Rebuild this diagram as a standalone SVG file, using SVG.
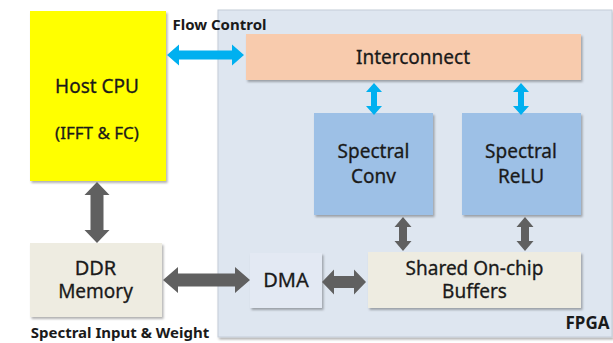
<svg xmlns="http://www.w3.org/2000/svg" width="613" height="343" viewBox="0 0 613 343">
<defs>
<filter id="sh" x="-10%" y="-10%" width="130%" height="130%">
<feDropShadow dx="1.5" dy="2" stdDeviation="1.2" flood-color="#000" flood-opacity="0.3"/>
</filter>
</defs>
<style>
text{font-family:"Noto Sans","Liberation Sans",sans-serif;fill:#1a1a1a;text-anchor:middle}
.lbl{font-size:19px;stroke:#1a1a1a;stroke-width:0.3px}
.b{font-weight:bold}
.blue{fill:#00b0f0}
.gray{fill:#606060}
</style>
<rect width="613" height="343" fill="#fff"/>
<g id="fpga">
<rect x="218" y="10" width="394" height="327" fill="#dee6f0" stroke="#c4ccd8" stroke-width="1" filter="url(#sh)"/>
<text class="b" x="587.5" y="329" style="font-size:17px">FPGA</text>
</g>
<g id="host-cpu">
<rect x="30" y="11" width="136" height="170" fill="#ffff00" filter="url(#sh)"/>
<text class="lbl" x="97" y="93">Host CPU</text>
<text class="lbl" x="97" y="139" style="font-size:17px">(IFFT &amp; FC)</text>
</g>
<g id="interconnect">
<rect x="246" y="34" width="335" height="46" fill="#f8cbad" filter="url(#sh)"/>
<text class="lbl" x="413" y="64">Interconnect</text>
</g>
<g id="spectral-conv">
<rect x="314" y="113" width="119" height="102" fill="#9dc0e6" filter="url(#sh)"/>
<text class="lbl" x="373.5" y="158">Spectral</text>
<text class="lbl" x="373.5" y="183">Conv</text>
</g>
<g id="spectral-relu">
<rect x="462" y="113" width="119" height="102" fill="#9dc0e6" filter="url(#sh)"/>
<text class="lbl" x="521" y="158">Spectral</text>
<text class="lbl" x="521" y="183">ReLU</text>
</g>
<g id="shared-buffers">
<rect x="368" y="252" width="213" height="56" fill="#eeece1" filter="url(#sh)"/>
<text class="lbl" x="474.5" y="275">Shared On-chip</text>
<text class="lbl" x="474.5" y="298">Buffers</text>
</g>
<g id="dma">
<rect x="250" y="253" width="72" height="55" fill="#e3e9f3" filter="url(#sh)"/>
<text class="lbl" x="286" y="287" style="font-size:20px">DMA</text>
</g>
<g id="ddr-memory">
<rect x="30" y="243" width="132" height="74" fill="#eeece1" filter="url(#sh)"/>
<text class="lbl" x="95.5" y="275" style="font-size:20px">DDR</text>
<text class="lbl" x="95.5" y="298">Memory</text>
</g>
<g id="labels">
<text class="b" x="219.5" y="30" style="font-size:15px">Flow Control</text>
<text class="b" x="120" y="338" style="font-size:15px">Spectral Input &amp; Weight</text>
</g>
<g id="connectors">
<polygon class="blue" points="167,55 179,44.5 179,50.5 232,50.5 232,44.5 244,55 232,65.5 232,59.5 179,59.5 179,65.5"/>
<polygon class="blue" points="374,83 382,92 377,92 377,106 382,106 374,115 366,106 371,106 371,92 366,92"/>
<polygon class="blue" points="521,83 529,92 524,92 524,106 529,106 521,115 513,106 518,106 518,92 513,92"/>
<polygon class="gray" points="97,182 109.5,195 103.5,195 103.5,230 109.5,230 97,243 84.5,230 90.5,230 90.5,195 84.5,195"/>
<polygon class="gray" points="163,280 178,267 178,273.5 235,273.5 235,267 250,280 235,293 235,286.5 178,286.5 178,293"/>
<polygon class="gray" points="322,282 334,269.5 334,276 354,276 354,269.5 366,282 354,294.5 354,288 334,288 334,294.5"/>
<polygon class="gray" points="403,217 411.5,227 407,227 407,241 411.5,241 403,251 394.5,241 399,241 399,227 394.5,227"/>
<polygon class="gray" points="525,217 533.5,227 529,227 529,241 533.5,241 525,251 516.5,241 521,241 521,227 516.5,227"/>
</g>
</svg>
